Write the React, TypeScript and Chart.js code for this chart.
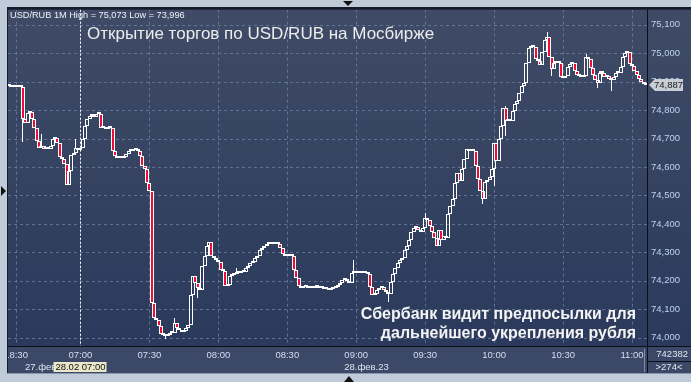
import { useEffect, useRef } from 'react';
import { Chart, registerables } from 'chart.js';

Chart.register(...registerables);

// ---- DATA (USD/RUB, 1-minute candles, closes) ----
const firstOpen = 74.884;
// 27 Feb, 18:27 .. end of session
const prevDayCloses = [74.884, 74.880, 74.887, 74.880, 74.887, 74.880, 74.768, 74.755, 74.789, 74.793, 74.768, 74.737, 74.691, 74.667, 74.674, 74.663, 74.667, 74.663, 74.674, 74.698, 74.702, 74.684, 74.635, 74.628, 74.611, 74.538, 74.586, 74.642, 74.649, 74.667, 74.660];
// 28 Feb
const closes0700 = [74.667, 74.698, 74.744, 74.768, 74.779, 74.782, 74.775, 74.786, 74.786, 74.737, 74.740, 74.733, 74.737, 74.737, 74.656, 74.639, 74.632, 74.632, 74.632, 74.635, 74.646, 74.656, 74.656, 74.660, 74.660, 74.656, 74.639, 74.604, 74.593, 74.545];
const closes0730 = [74.516, 74.122, 74.069, 74.062, 74.041, 74.013, 74.010, 74.006, 74.010, 74.017, 74.017, 74.052, 74.034, 74.027, 74.020, 74.024, 74.034, 74.045, 74.150, 74.216, 74.191, 74.174, 74.167, 74.251, 74.286, 74.324, 74.338, 74.286, 74.279, 74.272];
const closes0800 = [74.265, 74.237, 74.233, 74.181, 74.184, 74.216, 74.219, 74.223, 74.230, 74.226, 74.233, 74.230, 74.244, 74.251, 74.261, 74.265, 74.282, 74.289, 74.307, 74.314, 74.324, 74.328, 74.331, 74.335, 74.331, 74.328, 74.328, 74.314, 74.293, 74.289];
const closes0830 = [74.289, 74.293, 74.289, 74.237, 74.209, 74.181, 74.174, 74.177, 74.177, 74.174, 74.177, 74.174, 74.181, 74.177, 74.174, 74.177, 74.170, 74.170, 74.167, 74.170, 74.174, 74.177, 74.184, 74.191, 74.202, 74.205, 74.198, 74.191, 74.226, 74.233];
const closes0900 = [74.226, 74.230, 74.226, 74.226, 74.230, 74.223, 74.177, 74.149, 74.153, 74.167, 74.174, 74.177, 74.167, 74.160, 74.153, 74.195, 74.223, 74.244, 74.261, 74.275, 74.282, 74.307, 74.324, 74.342, 74.370, 74.387, 74.391, 74.377, 74.370, 74.387];
const closes0930 = [74.422, 74.415, 74.394, 74.373, 74.352, 74.321, 74.380, 74.342, 74.356, 74.349, 74.436, 74.464, 74.489, 74.545, 74.580, 74.551, 74.594, 74.628, 74.663, 74.656, 74.663, 74.656, 74.604, 74.558, 74.516, 74.488, 74.548, 74.555, 74.565, 74.594];
const closes1000 = [74.684, 74.621, 74.698, 74.744, 74.807, 74.761, 74.768, 74.761, 74.796, 74.821, 74.831, 74.859, 74.884, 74.894, 74.964, 75.020, 75.027, 75.023, 74.981, 74.971, 74.960, 75.006, 75.048, 75.058, 74.988, 74.943, 74.964, 74.971, 74.964, 74.915];
const closes1030 = [74.912, 74.919, 74.950, 74.961, 74.964, 74.936, 74.922, 74.919, 74.915, 74.919, 74.985, 74.978, 74.947, 74.922, 74.905, 74.894, 74.932, 74.929, 74.915, 74.919, 74.908, 74.905, 74.915, 74.929, 74.932, 74.953, 74.985, 75.002, 75.006, 74.961];
const closes1100 = [74.954, 74.936, 74.922, 74.908, 74.898, 74.891, 74.887];

// wick extremes: [candle index, price]
const wickHighs: [number, number][] = [[12, 74.726], [14, 74.716], [29, 74.698], [72, 74.069], [99, 74.244], [150, 74.272], [181, 74.440], [216, 74.815], [234, 75.073], [251, 74.996], [257, 74.936]];
const wickLows: [number, number][] = [[6, 74.688], [68, 73.996], [82, 74.139], [165, 74.125], [206, 74.471], [211, 74.534], [216, 74.709], [236, 74.919], [256, 74.877], [262, 74.866]];

const sessionStarts = ['18:27', '07:00'];
const timeTickLabels = ['18:30', '07:00', '07:30', '08:00', '08:30', '09:00', '09:30', '10:00', '10:30', '11:00'];
const yTickValues = [74.0, 74.1, 74.2, 74.3, 74.4, 74.5, 74.6, 74.7, 74.8, 74.9, 75.0, 75.1];
const yMin = 73.971;
const yMax = 75.153;
const lastPrice = 74.887;
const cursorLabel = '07:00';

const headerText = 'USD/RUB 1M High = 75,073 Low = 73,996';
const titleText = 'Открытие торгов по USD/RUB на Мосбирже';
const noteLines = ['Сбербанк видит предпосылки для', 'дальнейшего укрепления рубля'];
const dateLabels = ['27.фев', '28.фев.23'];
const cursorDateText = '28.02 07:00';
const counterTop = '742382';
const counterBottom = '>274<';

// ---- derived tables ----
const closes = [...prevDayCloses, ...closes0700, ...closes0730, ...closes0800, ...closes0830, ...closes0900, ...closes0930, ...closes1000, ...closes1030, ...closes1100];
const opens = closes.map((c, i) => (i === 0 ? firstOpen : closes[i - 1]));
const sessionCounts = [prevDayCloses.length, closes.length - prevDayCloses.length];

const pad2 = (n: number) => String(n).padStart(2, '0');
const categories: string[] = [];
sessionStarts.forEach((s, k) => {
  const [h, m] = s.split(':').map(Number);
  const start = h * 60 + m;
  for (let j = 0; j < sessionCounts[k]; j++) {
    const t = start + j;
    categories.push(`${pad2(Math.floor(t / 60))}:${pad2(t % 60)}`);
  }
});

const bodies = closes.map((c, i) => [opens[i], c]);
const bodyColors = closes.map((c, i) => (c < opens[i] ? '#ee0d35' : 'rgba(0,0,0,0)'));
const upperWicks: (number[] | null)[] = closes.map(() => null);
const lowerWicks: (number[] | null)[] = closes.map(() => null);
wickHighs.forEach(([i, v]) => { upperWicks[i] = [Math.max(opens[i], closes[i]), v]; });
wickLows.forEach(([i, v]) => { lowerWicks[i] = [v, Math.min(opens[i], closes[i])]; });

const FONT = '"Liberation Sans", Arial, sans-serif';
const fmt = (v: number) => v.toFixed(3).replace('.', ',');

const W = 691;
const H = 382;
const PANEL_BOTTOM = 374;

// snap bars to whole pixels so the thin candle outlines stay crisp
const snapPlugin = {
  id: 'snap',
  afterDatasetsUpdate(chart: any) {
    chart.data.datasets.forEach((_: any, di: number) => {
      const meta = chart.getDatasetMeta(di);
      meta.data.forEach((el: any) => {
        if (el == null || el.skip) return;
        const w = el.width || 1;
        el.x = Math.round(el.x - w / 2) + w / 2;
        if (Number.isFinite(el.y) && Number.isFinite(el.base)) {
          const y = Math.round(el.y);
          let b = Math.round(el.base);
          if (y === b) b = y + 1;
          el.y = y;
          el.base = b;
          el.height = b - y;
        }
      });
    });
  },
};

const chromePlugin = {
  id: 'chrome',
  beforeDraw(chart: any) {
    const { ctx, chartArea: a } = chart;
    ctx.save();
    ctx.fillStyle = '#bfcbd9';
    ctx.fillRect(0, 0, W, H);
    ctx.fillStyle = '#151b29';
    ctx.fillRect(7, 7, W - 7, PANEL_BOTTOM - 7);
    const g = ctx.createLinearGradient(0, a.top, 0, a.bottom);
    g.addColorStop(0, '#3f4b66');
    g.addColorStop(1, '#2b3a5c');
    ctx.fillStyle = g;
    ctx.fillRect(a.left, a.top, W - a.left, a.bottom - a.top);
    ctx.fillStyle = '#3b4867';
    ctx.fillRect(a.left, a.bottom, W - a.left, PANEL_BOTTOM - 1 - a.bottom);
    ctx.fillStyle = '#8a97ad';
    ctx.fillRect(7, PANEL_BOTTOM - 1, W - 7, 1);
    ctx.restore();
  },
  beforeDatasetsDraw(chart: any) {
    const { ctx, chartArea: a, scales } = chart;
    const xs = scales.x;
    const ys = scales.y;
    ctx.save();
    ctx.beginPath();
    ctx.rect(a.left, a.top, a.right - a.left, a.bottom - a.top);
    ctx.clip();
    ctx.strokeStyle = 'rgba(108,126,160,0.8)';
    ctx.lineWidth = 1;
    ctx.setLineDash([3, 3]);
    ctx.beginPath();
    yTickValues.forEach((v) => {
      const y = Math.round(ys.getPixelForValue(v)) + 0.5;
      ctx.moveTo(a.left, y);
      ctx.lineTo(a.right, y);
    });
    timeTickLabels.forEach((lab) => {
      const idx = categories.indexOf(lab);
      if (idx < 0) return;
      const x = Math.round(xs.getPixelForValue(idx)) + 0.5;
      ctx.moveTo(x, a.top);
      ctx.lineTo(x, a.bottom);
    });
    ctx.stroke();
    ctx.restore();
  },
  afterDatasetsDraw(chart: any) {
    const { ctx, chartArea: a, scales } = chart;
    const xs = scales.x;
    const ys = scales.y;
    ctx.save();

    // cursor dotted line
    const ci = categories.indexOf(cursorLabel);
    const cx = Math.round(xs.getPixelForValue(ci)) + 0.5;
    ctx.strokeStyle = '#ffffff';
    ctx.lineWidth = 1;
    ctx.setLineDash([2, 2]);
    ctx.beginPath();
    ctx.moveTo(cx, a.top);
    ctx.lineTo(cx, a.bottom);
    ctx.stroke();
    ctx.setLineDash([]);

    // texts in plot
    ctx.textBaseline = 'middle';
    ctx.textAlign = 'left';
    ctx.fillStyle = '#eef2f8';
    ctx.font = `9.2px ${FONT}`;
    ctx.fillText(headerText, 10, 15);
    ctx.fillStyle = '#ececec';
    ctx.font = `17px ${FONT}`;
    ctx.fillText(titleText, 87, 34);
    ctx.textAlign = 'right';
    ctx.fillStyle = '#f4f4f4';
    ctx.font = `bold 16px ${FONT}`;
    ctx.fillText(noteLines[0], 636, 315);
    ctx.fillText(noteLines[1], 636, 334);

    // separators
    ctx.fillStyle = '#0b0f18';
    ctx.fillRect(a.left, a.bottom, W - a.left, 1);
    ctx.fillRect(a.right, a.top, 1, PANEL_BOTTOM - 1 - a.top);
    ctx.fillRect(a.right, 361, W - a.right, 1);
    ctx.fillStyle = '#7f8ca4';
    ctx.fillRect(a.right - 3, 349, 1, 23);

    // last price tag
    const py = Math.round(ys.getPixelForValue(lastPrice));
    ctx.fillStyle = '#c9ced6';
    ctx.beginPath();
    ctx.moveTo(a.right + 2, py);
    ctx.lineTo(a.right + 8, py - 6);
    ctx.lineTo(a.right + 36, py - 6);
    ctx.lineTo(a.right + 36, py + 6);
    ctx.lineTo(a.right + 8, py + 6);
    ctx.closePath();
    ctx.fill();
    ctx.fillStyle = '#1a1a1a';
    ctx.textAlign = 'left';
    ctx.font = `9.5px ${FONT}`;
    ctx.fillText(fmt(lastPrice), a.right + 7, py + 0.5);

    // x axis labels
    ctx.save();
    ctx.beginPath();
    ctx.rect(a.left, a.bottom + 1, a.right - a.left - 3, PANEL_BOTTOM - a.bottom);
    ctx.clip();
    ctx.fillStyle = '#d2def2';
    ctx.textAlign = 'center';
    ctx.font = `9.5px ${FONT}`;
    timeTickLabels.forEach((lab) => {
      const idx = categories.indexOf(lab);
      if (idx < 0) return;
      ctx.fillText(lab, xs.getPixelForValue(idx), 355);
    });
    ctx.textAlign = 'left';
    ctx.fillStyle = '#dfe5ef';
    ctx.fillText(dateLabels[0], 25, 367);
    const newDayIdx = categories.indexOf('09:00');
    ctx.fillText(dateLabels[1], xs.getPixelForValue(newDayIdx) - 12, 367);
    // cursor date box
    ctx.fillStyle = '#ebe7c9';
    ctx.fillRect(cx - 27, 362, 53, 10);
    ctx.fillStyle = '#111111';
    ctx.textAlign = 'center';
    ctx.fillText(cursorDateText, cx, 367.5);
    ctx.restore();

    // counter
    ctx.fillStyle = '#dfe5ef';
    ctx.textAlign = 'right';
    ctx.font = `9.5px ${FONT}`;
    ctx.fillText(counterTop, 688, 354);
    ctx.textAlign = 'center';
    ctx.fillText(counterBottom, 669, 367.5);

    // frame markers
    ctx.fillStyle = '#111111';
    ctx.beginPath();
    ctx.moveTo(1, 186);
    ctx.lineTo(6, 191);
    ctx.lineTo(1, 196);
    ctx.closePath();
    ctx.fill();
    ctx.beginPath();
    ctx.moveTo(343, 1);
    ctx.lineTo(353, 1);
    ctx.lineTo(348, 6);
    ctx.closePath();
    ctx.fill();
    ctx.beginPath();
    ctx.moveTo(344, 382);
    ctx.lineTo(354, 382);
    ctx.lineTo(349, 376);
    ctx.closePath();
    ctx.fill();

    ctx.restore();
  },
};

export default function App() {
  const ref = useRef<HTMLCanvasElement | null>(null);
  useEffect(() => {
    const canvas = ref.current;
    if (!canvas) return;
    const chart = new Chart(canvas, {
      type: 'bar',
      data: {
        labels: categories,
        datasets: [
          {
            label: 'body',
            data: bodies as any,
            backgroundColor: bodyColors,
            borderColor: '#ffffff',
            borderWidth: 1,
            borderSkipped: false,
            barThickness: 4,
            minBarLength: 2,
            grouped: false,
            inflateAmount: 0,
          } as any,
          {
            label: 'upper',
            data: upperWicks as any,
            backgroundColor: '#ffffff',
            barThickness: 1,
            grouped: false,
            inflateAmount: 0,
          } as any,
          {
            label: 'lower',
            data: lowerWicks as any,
            backgroundColor: '#ffffff',
            barThickness: 1,
            grouped: false,
            inflateAmount: 0,
          } as any,
        ],
      },
      options: {
        responsive: false,
        animation: false,
        devicePixelRatio: 1,
        layout: { padding: { left: 8, top: 8, right: 0, bottom: H - 346 } },
        plugins: { legend: { display: false }, tooltip: { enabled: false } },
        scales: {
          x: { type: 'category', display: false, offset: true, grid: { display: false } },
          y: {
            position: 'right',
            min: yMin,
            max: yMax,
            afterFit: (s: any) => { s.width = 44; },
            afterBuildTicks: (s: any) => { s.ticks = yTickValues.map((v) => ({ value: v })); },
            grid: { display: false, drawTicks: false },
            border: { display: false },
            ticks: {
              color: '#bcd2f0',
              padding: 4,
              font: { family: FONT, size: 9.5 },
              callback: (v: any) => fmt(Number(v)),
            },
          },
        },
      } as any,
      plugins: [snapPlugin, chromePlugin],
    });
    return () => chart.destroy();
  }, []);
  return (
    <div style={{ position: 'fixed', left: 0, top: 0, width: W, height: H, background: '#bfcbd9' }}>
      <canvas ref={ref} width={W} height={H} style={{ display: 'block', width: W, height: H }} />
    </div>
  );
}
